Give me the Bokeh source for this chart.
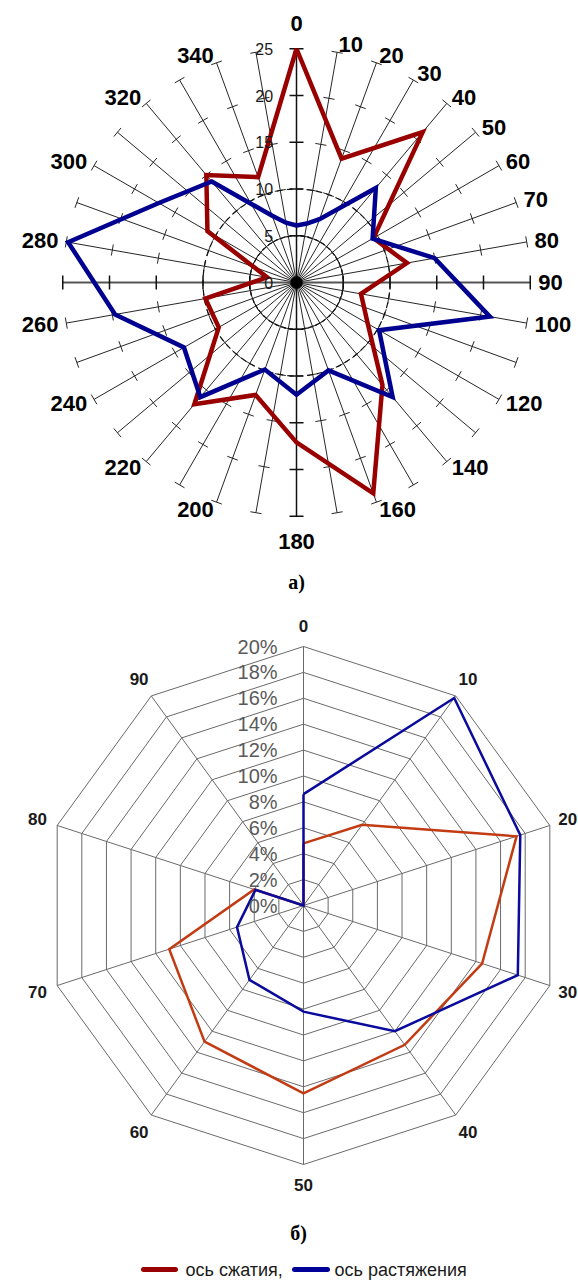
import math
from bokeh.plotting import figure
from bokeh.layouts import column
from bokeh.models import Range1d
from bokeh.core.properties import value
from bokeh.embed import file_html
from bokeh.resources import INLINE

# ---------------- data: chart а) (rose diagram, values 0..25) ----------------
rose_spoke_angles = list(range(0, 360, 10))
rose_label_angles = [0, 10, 20, 30, 40, 50, 60, 70, 80, 90, 100, 120, 140, 160,
                     180, 200, 220, 240, 260, 280, 300, 320, 340]
rose_ticks = [0, 5, 10, 15, 20, 25]
rose_dashed_circles = [5, 10]
compression_angles = [0, 20, 40, 60, 80, 100, 120, 140, 160, 180, 200, 220, 240,
                      260, 280, 300, 320, 340]
compression_values = [25.0, 14.1, 21.0, 9.5, 12.0, 7.0, 8.8, 14.3, 24.0, 17.1,
                      12.8, 17.0, 9.6, 9.9, 3.2, 11.0, 15.0, 12.0]
tension_angles = [0, 10, 20, 40, 60, 80, 100, 120, 140, 160, 180, 200, 220, 240,
                  260, 280, 300, 320, 340, 350]
tension_values = [6.1, 6.4, 7.2, 13.2, 9.4, 15.0, 21.0, 10.2, 16.0, 10.0, 12.0,
                  9.9, 16.0, 13.9, 19.7, 24.8, 17.0, 14.1, 7.6, 6.5]

# ---------------- data: chart б) (radar, percent) ----------------
radar_categories = ["0", "10", "20", "30", "40", "50", "60", "70", "80", "90"]
radar_ticks = [0, 2, 4, 6, 8, 10, 12, 14, 16, 18, 20]
radar_compression = [4.8, 7.7, 17.3, 14.5, 13.3, 14.5, 13.0, 10.9, 4.0, 0.0]
radar_tension = [8.6, 19.8, 17.6, 17.4, 12.0, 8.2, 7.1, 5.4, 3.9, 0.0]

legend_labels = ["ось сжатия,", "ось растяжения"]
captions = ["а)", "б)"]

FONT = value("Liberation Sans")
SERIF = value("Liberation Serif")


def pol(r, deg):
    a = math.radians(deg)
    return r * math.sin(a), r * math.cos(a)


def bare_fig(w, h, cx, cy, k):
    p = figure(width=w, height=h,
               x_range=Range1d(-cx / k, (w - cx) / k),
               y_range=Range1d(-(h - cy) / k, cy / k),
               output_backend="svg", toolbar_location=None,
               x_axis_location=None, y_axis_location=None,
               min_border=0, outline_line_color=None)
    p.grid.grid_line_color = None
    p.background_fill_color = "white"
    return p


W = 578

# =============================== chart а) ===============================
H1, K1, CX1, CY1 = 600, 9.35, 296, 282
p1 = bare_fig(W, H1, CX1, CY1, K1)
rmax = rose_ticks[-1]

# spokes
x0, y0, x1, y1 = [], [], [], []
for a in rose_spoke_angles:
    if a % 90 == 0:
        continue
    ex, ey = pol(rmax, a)
    x0.append(0); y0.append(0); x1.append(ex); y1.append(ey)
p1.segment(x0, y0, x1, y1, line_color="#262626", line_width=1)
# main cross axes
for a, col, lw in [(0, "#111111", 1.5), (180, "#111111", 1.5), (90, "#555555", 1.8), (270, "#555555", 1.8)]:
    ex, ey = pol(rmax, a)
    p1.segment([0], [0], [ex], [ey], line_color=col, line_width=lw)

# tick marks (perpendicular)
tx0, ty0, tx1, ty1 = [], [], [], []
mx0, my0, mx1, my1 = [], [], [], []
for a in rose_spoke_angles:
    main = a % 90 == 0
    h = 0.75 if main else 0.6
    ca, sa = math.cos(math.radians(a)), math.sin(math.radians(a))
    for r in rose_ticks[1:]:
        cx, cy = pol(r, a)
        px, py = h * ca, -h * sa
        if main:
            mx0.append(cx - px); my0.append(cy - py); mx1.append(cx + px); my1.append(cy + py)
        else:
            tx0.append(cx - px); ty0.append(cy - py); tx1.append(cx + px); ty1.append(cy + py)
p1.segment(tx0, ty0, tx1, ty1, line_color="#262626", line_width=1)
p1.segment(mx0, my0, mx1, my1, line_color="#111111", line_width=1.5)

# dashed circles
p1.circle(x=[0], y=[0], radius=[rose_dashed_circles[0]], fill_color=None,
          line_color="#111111", line_width=1.2, line_dash="5 2")
p1.circle(x=[0], y=[0], radius=[rose_dashed_circles[1]], fill_color=None,
          line_color="#111111", line_width=1.2, line_dash="6 4")

# central hub
p1.circle(x=[0], y=[0], radius=[0.6], fill_color="black", line_color="black")


def closed_polar(angles, vals):
    xs, ys = [], []
    for a, v in zip(angles, vals):
        x, y = pol(v, a)
        xs.append(x); ys.append(y)
    xs.append(xs[0]); ys.append(ys[0])
    return xs, ys


cx_, cy_ = closed_polar(compression_angles, compression_values)
p1.line(cx_, cy_, line_color="#990000", line_width=4.5, line_join="miter")
tx_, ty_ = closed_polar(tension_angles, tension_values)
p1.line(tx_, ty_, line_color="#000090", line_width=4.5, line_join="miter")

# radial tick labels along 0-axis
p1.text(x=[-2.5] * len(rose_ticks), y=rose_ticks, text=[str(t) for t in rose_ticks],
        text_align="right", text_baseline="middle", text_font=FONT,
        text_font_size="16px", text_color="#1a1a1a")

# angle labels
for a in rose_label_angles:
    s = math.sin(math.radians(a))
    if abs(s) < 0.05:
        r, align = 27.7, "center"
    else:
        r, align = 25.85, ("left" if s > 0 else "right")
    lx, ly = pol(r, a)
    p1.text(x=[lx], y=[ly], text=[str(a)], text_align=align, text_baseline="middle",
            text_font=FONT, text_font_style="bold", text_font_size="22px",
            text_color="black")

# caption
p1.text(x=[0.0], y=[(CY1 - 581) / K1], text=[captions[0]], text_align="center",
        text_baseline="middle", text_font=SERIF, text_font_style="bold",
        text_font_size="20px", text_color="black")

# =============================== chart б) ===============================
H2, K2, CX2, CY2 = 680, 12.95, 303, 305
p2 = bare_fig(W, H2, CX2, CY2, K2)
n = len(radar_categories)
step = 360.0 / n
rtop = radar_ticks[-1]

# rings
ring_xs, ring_ys = [], []
for t in radar_ticks[1:]:
    xs, ys = [], []
    for i in range(n + 1):
        x, y = pol(t, i * step)
        xs.append(x); ys.append(y)
    ring_xs.append(xs); ring_ys.append(ys)
p2.multi_line(ring_xs, ring_ys, line_color="#6a6a6a", line_width=1)
# spokes
sx1, sy1 = [], []
for i in range(n):
    x, y = pol(rtop, i * step)
    sx1.append(x); sy1.append(y)
p2.segment([0] * n, [0] * n, sx1, sy1, line_color="#6a6a6a", line_width=1)


def closed_radar(vals):
    xs, ys = [], []
    for i, v in enumerate(vals):
        x, y = pol(v, i * step)
        xs.append(x); ys.append(y)
    xs.append(xs[0]); ys.append(ys[0])
    return xs, ys


rx, ry = closed_radar(radar_compression)
p2.line(rx, ry, line_color="#C23B12", line_width=2.5, line_join="miter")
bx, by = closed_radar(radar_tension)
p2.line(bx, by, line_color="#0A0A9C", line_width=2.5, line_join="miter")

# percent labels
p2.text(x=[-2.0] * len(radar_ticks), y=radar_ticks,
        text=[f"{t}%" for t in radar_ticks], text_align="right",
        text_baseline="middle", text_font=FONT, text_font_size="20px",
        text_color="#5a5a5a")

# category labels (kept inside the canvas at the right edge)
x_right = (W - CX2) / K2 - 0.1
for i, c in enumerate(radar_categories):
    lx, ly = pol(21.6, i * step)
    align = "center"
    if lx + 0.9 > x_right:
        lx, align = x_right, "right"
    p2.text(x=[lx], y=[ly], text=[c], text_align=align, text_baseline="middle",
            text_font=FONT, text_font_style="bold", text_font_size="17px",
            text_color="#1a1a1a")

# caption
p2.text(x=[(298 - CX2) / K2], y=[(CY2 - 632) / K2], text=[captions[1]],
        text_align="center", text_baseline="middle", text_font=SERIF,
        text_font_style="bold", text_font_size="20px", text_color="black")

# legend (manual)
ly_leg = (CY2 - 669) / K2
leg_colors = ["#990000", "#000099"]
leg_line_px = [(143, 175), (294, 327)]
leg_text_px = [185, 334]
for lab, colr, (a_, b_), t_ in zip(legend_labels, leg_colors, leg_line_px, leg_text_px):
    p2.segment([(a_ - CX2) / K2], [ly_leg], [(b_ - CX2) / K2], [ly_leg],
               line_color=colr, line_width=5, line_cap="round")
    p2.text(x=[(t_ - CX2) / K2], y=[ly_leg], text=[lab], text_align="left",
            text_baseline="middle", text_font=FONT, text_font_size="18px",
            text_color="#1a1a1a")

layout = column(p1, p2, spacing=0)
open("out.html", "w").write(file_html(layout, INLINE))
